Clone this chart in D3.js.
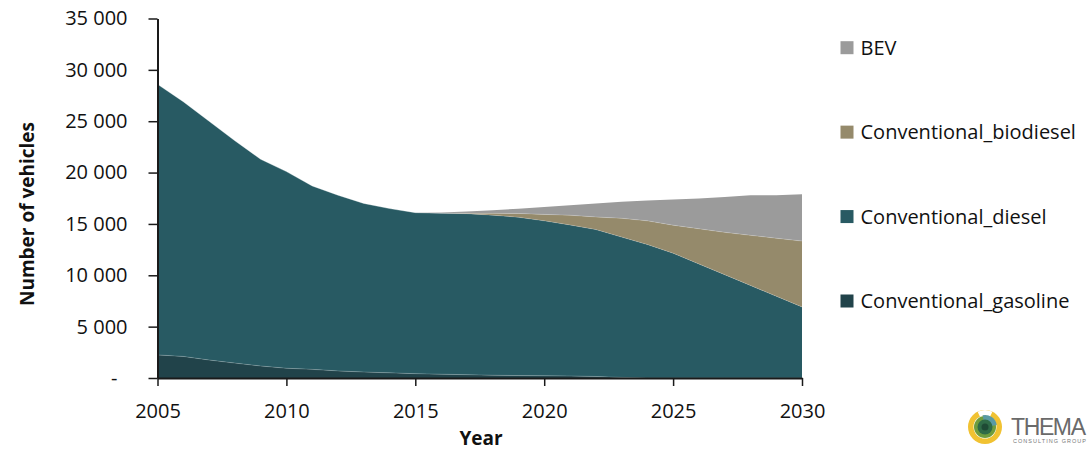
<!DOCTYPE html>
<html>
<head>
<meta charset="utf-8">
<script src="https://cdn.jsdelivr.net/npm/d3@7"></script>
<style>
  html, body { margin: 0; padding: 0; background: #ffffff; }
  svg { display: block; }
  text { font-family: "Open Sans", "DejaVu Sans", sans-serif; fill: #111; }
</style>
</head>
<body>
<svg id="chart" width="1087" height="452"></svg>
<script>
// Vehicle stock by technology, 2005-2030
const years = d3.range(2005, 2031);
const seriesNames = ["Conventional_gasoline", "Conventional_diesel", "Conventional_biodiesel", "BEV"];
const gasoline = [2250, 2100, 1750, 1450, 1170, 950, 840, 690, 580, 500, 420, 370, 320, 270, 240, 220, 200, 150, 60, 0, 0, 0, 0, 0, 0, 0];
const diesel = [26350, 24800, 23250, 21650, 20130, 19150, 17860, 17110, 16420, 16000, 15680, 15680, 15680, 15580, 15410, 15080, 14700, 14300, 13660, 12990, 12150, 11100, 10060, 9010, 7960, 6920];
const biodiesel = [0, 0, 0, 0, 0, 0, 0, 0, 0, 0, 0, 0, 30, 180, 370, 630, 950, 1230, 1830, 2310, 2730, 3430, 4120, 4880, 5650, 6410];
const bev = [0, 0, 0, 0, 0, 0, 0, 0, 0, 0, 0, 70, 170, 300, 460, 710, 980, 1320, 1600, 1980, 2500, 2950, 3450, 3890, 4190, 4550];
const yTicks = [0, 5000, 10000, 15000, 20000, 25000, 30000, 35000];
const xTicks = [2005, 2010, 2015, 2020, 2025, 2030];
const legendOrder = ["BEV", "Conventional_biodiesel", "Conventional_diesel", "Conventional_gasoline"];

const colors = {
  "Conventional_gasoline": "#21434a",
  "Conventional_diesel": "#285a63",
  "Conventional_biodiesel": "#958a6b",
  "BEV": "#9b9b9b"
};

const valuesByName = {
  "Conventional_gasoline": gasoline,
  "Conventional_diesel": diesel,
  "Conventional_biodiesel": biodiesel,
  "BEV": bev
};

const rows = years.map((yr, i) => {
  const r = { year: yr };
  seriesNames.forEach(n => { r[n] = valuesByName[n][i]; });
  return r;
});

const svg = d3.select("#chart");
const plot = { left: 157.5, right: 802, top: 18.5, bottom: 378 };

const x = d3.scaleLinear().domain([2005, 2030]).range([plot.left, plot.right]);
const y = d3.scaleLinear().domain([0, 35000]).range([plot.bottom, plot.top]);

const stacked = d3.stack().keys(seriesNames)(rows);

const area = d3.area()
  .x(d => x(d.data.year))
  .y0(d => y(d[0]))
  .y1(d => y(d[1]));

const topLine = d3.line()
  .x(d => x(d.data.year))
  .y(d => y(d[1]));

const layers = svg.append("g");
layers.selectAll("path.layer")
  .data(stacked)
  .join("path")
  .attr("class", "layer")
  .attr("d", area)
  .attr("fill", d => colors[d.key]);

// faint seams between stacked layers
layers.selectAll("path.seam")
  .data(stacked.slice(0, 3))
  .join("path")
  .attr("class", "seam")
  .attr("d", topLine)
  .attr("fill", "none")
  .attr("stroke", "#ffffff")
  .attr("stroke-opacity", 0.22)
  .attr("stroke-width", 0.8);

// Y axis
const fmt = v => v === 0 ? "-" : d3.format(",")(v).replace(/,/g, " ");
const yAxis = svg.append("g")
  .attr("transform", `translate(${plot.left},0)`)
  .call(d3.axisLeft(y).tickValues(yTicks).tickFormat(fmt).tickSize(9).tickSizeOuter(0).tickPadding(21));
yAxis.selectAll("text")
  .style("font-size", "20px")
  .attr("fill", "#111")
  .attr("x", d => d === 0 ? -40 : -30);
yAxis.selectAll("line").attr("stroke", "#1a1a1a").attr("stroke-width", 1.5);
yAxis.select(".domain").attr("stroke", "#1a1a1a").attr("stroke-width", 2);

// X axis
const xAxis = svg.append("g")
  .attr("transform", `translate(0,${plot.bottom})`)
  .call(d3.axisBottom(x).tickValues(xTicks).tickFormat(d3.format("d")).tickSize(8).tickSizeOuter(0).tickPadding(18));
xAxis.selectAll("text").style("font-size", "20px").attr("fill", "#111");
xAxis.selectAll("line").attr("stroke", "#1a1a1a").attr("stroke-width", 1.5);
xAxis.select(".domain").attr("stroke", "#1a1a1a").attr("stroke-width", 2);

// Axis titles
svg.append("text")
  .attr("transform", "translate(34,214) rotate(-90)")
  .attr("text-anchor", "middle")
  .style("font-size", "19px")
  .style("font-weight", "700")
  .text("Number of vehicles");

svg.append("text")
  .attr("x", 481)
  .attr("y", 445)
  .attr("text-anchor", "middle")
  .style("font-size", "19px")
  .style("font-weight", "700")
  .text("Year");

// Legend
const legend = svg.append("g");
const legendY = d3.scalePoint().domain(legendOrder).range([47.7, 301]);
const items = legend.selectAll("g")
  .data(legendOrder)
  .join("g")
  .attr("transform", d => `translate(840.5,${legendY(d)})`);
items.append("rect")
  .attr("x", 0).attr("y", -6.5)
  .attr("width", 13).attr("height", 13)
  .attr("fill", d => colors[d]);
items.append("text")
  .attr("x", 20).attr("y", 7)
  .style("font-size", "20px")
  .text(d => d);

// Company logo
const logo = svg.append("g").attr("transform", "translate(985,427)");
logo.append("circle").attr("r", 17).attr("fill", "#f1c232");
logo.append("circle").attr("r", 11.5).attr("fill", "#ffffff");
logo.append("path")
  .attr("d", d3.arc().innerRadius(11.5).outerRadius(17).startAngle(-0.45).endAngle(0.45))
  .attr("fill", "#ffffff");
logo.append("circle").attr("r", 11).attr("fill", "#6f9d3e");
logo.append("path")
  .attr("d", d3.arc().innerRadius(0).outerRadius(12).startAngle(-0.2).endAngle(1.4))
  .attr("fill", "#5a9aa3");
logo.append("circle").attr("r", 7.5).attr("fill", "#2f6b47");
logo.append("circle").attr("r", 3.5).attr("fill", "#1f4a35");
svg.append("text")
  .attr("x", 1011).attr("y", 435)
  .style("font-size", "23px")
  .style("font-family", "'Liberation Sans', Arial, sans-serif")
  .style("fill", "#6a6a6a")
  .attr("textLength", 75)
  .text("THEMA");
svg.append("text")
  .attr("x", 1013).attr("y", 443)
  .style("font-size", "5.5px")
  .style("font-family", "'Liberation Sans', Arial, sans-serif")
  .style("fill", "#777")
  .attr("textLength", 73)
  .text("CONSULTING GROUP");
</script>
</body>
</html>
